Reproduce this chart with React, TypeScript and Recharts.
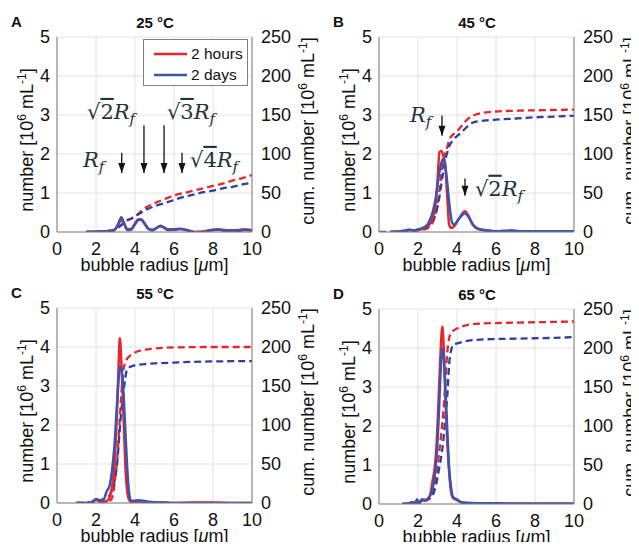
import React from 'react';
import { ComposedChart, Line, XAxis, YAxis, CartesianGrid, ReferenceLine, ReferenceDot, Legend } from 'recharts';

// ---------- data ----------
// Panel A (25 °C)
const rA = [1.5,2.0,2.5,2.8,3.0,3.15,3.3,3.45,3.6,3.8,4.0,4.15,4.3,4.5,4.7,4.9,5.1,5.3,5.45,5.7,6.0,6.2,6.4,6.6,6.9,7.1,7.4,7.7,8.0,8.3,8.6,9.0,9.3,9.6,10.0];
const nA2h = [0,0.01,0.02,0.04,0.08,0.2,0.3,0.22,0.08,0.08,0.22,0.32,0.33,0.22,0.08,0.06,0.1,0.15,0.13,0.07,0.07,0.08,0.08,0.06,0.02,0.0,0.01,0.03,0.06,0.07,0.05,0.04,0.05,0.07,0.05];
const nA2d = [0,0,0.01,0.03,0.08,0.22,0.38,0.2,0.05,0.06,0.2,0.3,0.32,0.2,0.07,0.04,0.1,0.16,0.12,0.05,0.06,0.07,0.08,0.05,0.01,-0.02,-0.01,0.02,0.05,0.06,0.03,0.04,0.03,0.05,0.04];
const cA = [1.5,2.5,3.0,3.2,3.4,3.6,3.8,4.0,4.2,4.4,4.6,5.0,5.5,6.0,6.5,7.0,7.5,8.0,8.5,9.0,9.5,10.0];
const cA2h = [0,1,3,7,11,15,17,20,24,29,32,37,42,47,50,53,56,59,62,66,69,73];
const cA2d = [0,1,3,7,11,15,17,20,23,26,29,33,37,41,45,48,51,53,56,58,61,63];

// Panel B (45 °C)
const rB = [0.6,1.0,1.3,1.5,1.8,2.0,2.3,2.5,2.6,2.7,2.8,2.9,3.0,3.1,3.2,3.3,3.4,3.5,3.6,3.7,3.8,3.9,4.0,4.2,4.4,4.6,4.8,5.0,5.3,5.6,6.0,6.4,6.8,7.2,8,9,10];
const nB2h = [0,0.01,0.03,0.05,0.04,0.05,0.1,0.16,0.2,0.28,0.45,0.7,1.3,2.05,2.08,1.95,1.7,0.9,0.18,0.1,0.12,0.18,0.26,0.42,0.53,0.4,0.2,0.1,0.05,0.03,0.02,0.02,0.03,0.01,0.01,0.01,0.01];
const nB2d = [0,0.01,0.03,0.06,0.04,0.06,0.12,0.2,0.3,0.42,0.6,0.85,1.2,1.55,1.78,1.87,1.7,1.25,0.75,0.35,0.2,0.2,0.27,0.4,0.48,0.38,0.2,0.1,0.06,0.04,0.02,0.03,0.04,0.02,0.02,0.02,0.02];
const cB = [0,0.6,1.5,2.0,2.5,2.8,3.0,3.1,3.2,3.3,3.4,3.5,3.6,3.8,4.0,4.2,4.4,4.6,4.8,5.0,5.5,6,7,8,9,10];
const cB2h = [0,0,1,2,5,15,35,53,75,92,102,109,118,125,129,135,141,146,149,151,153.5,154.5,155.5,156,156.5,157];
const cB2d = [null,0,1,3,7,16,32,45,62,78,92,102,110,118,123,127,132,137,140,141.5,143,144,145.5,147,148,149];

// Panel C (55 °C)
const rC = [1.0,1.5,1.8,2.0,2.2,2.4,2.55,2.7,2.85,2.95,3.05,3.15,3.22,3.3,3.4,3.5,3.6,3.7,3.8,4.0,4.2,4.5,5,5.5,6,7,8,9,10];
const nC2h = [0,0,0.02,0.08,0.04,0.03,0.05,0.15,0.5,1.0,2.0,3.4,4.23,3.6,2.4,1.0,0.3,0.08,0.03,0.02,0.03,0.02,0.01,0.01,0,0.01,0.01,0,0];
const nC2d = [0,0,0.03,0.1,0.07,0.1,0.3,0.45,0.95,1.5,2.3,3.1,3.5,3.45,2.9,1.9,0.9,0.25,0.05,0.06,0.07,0.05,0.02,0.01,0,0,0,0,0];
const cC = [1.0,1.5,2.0,2.3,2.5,2.7,2.8,2.9,3.0,3.1,3.2,3.3,3.4,3.5,3.6,3.8,4.0,4.5,5,6,7,8,10];
const cC2h = [0,0,0.5,1,2,3,5,15,35,60,100,140,170,180,185,190,193,196.5,198,199.5,199.8,200,200];
const cC2d = [0,0.5,2,4,6,10,15,22,35,55,88,118,140,160,172,175,176.5,178,179,180,181,181.5,182];

// Panel D (65 °C)
const rD = [1.2,1.5,1.7,1.85,1.95,2.05,2.2,2.4,2.6,2.75,2.85,2.95,3.05,3.15,3.25,3.32,3.4,3.5,3.6,3.7,3.8,4.0,4.2,4.5,5,6,7,8,9,10];
const nD2h = [0,0,0.02,0.05,0.08,0.05,0.08,0.1,0.2,0.6,0.9,1.5,2.6,3.8,4.55,4.0,2.8,1.6,0.8,0.3,0.15,0.1,0.05,0.02,0.01,0.01,0,0,0,0];
const nD2d = [0,0.01,0.05,-0.05,0.12,0.0,0.12,0.1,0.2,0.4,0.7,1.2,2.1,3.3,3.98,3.8,3.0,1.9,0.9,0.4,0.18,0.12,0.05,0.03,0.02,0.02,0.01,0.01,0.01,0.01];
const cD = [1.2,1.8,2.2,2.5,2.7,2.9,3.0,3.1,3.2,3.3,3.4,3.5,3.6,3.7,3.8,4.0,4.3,4.6,5,6,7,8,9,10];
const cD2h = [0,1,3,5,12,30,48,69,92,118,155,194,213,219,222,225,228,230,231,232,232.5,233,233.5,234];
const cD2d = [0,1,4,6,9,22,34,48,62,82,110,138,180,197,204,206,208,209.5,210.5,211.5,212,212.5,213,214];

// ticks
const xTicks = [0,2,4,6,8,10];
const leftTicks = [0,1,2,3,4,5];
const rightTicks = [0,50,100,150,200,250];
const legendItems = ['2 hours', '2 days'];

// annotations (data coordinates)
const arrowsA = [{ x: 3.32, from: 2.03, to: 1.51 }, { x: 4.46, from: 2.74, to: 1.51 }, { x: 5.49, from: 2.74, to: 1.51 }, { x: 6.41, from: 2.03, to: 1.51 }];
const labelsA = [{ x: 1.33, y: 1.67, root: '' }, { x: 1.54, y: 2.9, root: '2' }, { x: 5.64, y: 2.9, root: '3' }, { x: 6.82, y: 1.67, root: '4' }];
const arrowsB = [{ x: 3.23, from: 2.99, to: 2.47 }, { x: 4.41, from: 1.37, to: 0.93 }];
const labelsB = [{ x: 1.59, y: 2.82, root: '' }, { x: 4.92, y: 0.93, root: '2' }];

// ---------- styles ----------
const FONT = '"Liberation Sans", Arial, Helvetica, sans-serif';
const MATH = '"DejaVu Serif", "Liberation Serif", serif';
const RED = '#e8262b';
const BLUE = '#3a55ad';
const BLUE_D = '#2f3f9e';
const AX = '#808080';
const GRID = '#e2e2e2';
const TXT = '#111';
const MATHC = '#1f3439';

const pts = (xs: number[], ys: (number | null)[]) => xs.map((x, i) => ({ x, y: ys[i] }));

const panels = [
  { letter: 'A', title: '25 °C', left: 0, top: 0, num: [rA, nA2h, nA2d], cum: [cA, cA2h, cA2d], arrows: arrowsA, labels: labelsA, legend: true },
  { letter: 'B', title: '45 °C', left: 322, top: 0, num: [rB, nB2h, nB2d], cum: [cB, cB2h, cB2d], arrows: arrowsB, labels: labelsB, legend: false },
  { letter: 'C', title: '55 °C', left: 0, top: 271, num: [rC, nC2h, nC2d], cum: [cC, cC2h, cC2d], arrows: [], labels: [], legend: false },
  { letter: 'D', title: '65 °C', left: 322, top: 272, num: [rD, nD2h, nD2d], cum: [cD, cD2h, cD2d], arrows: [], labels: [], legend: false },
];

function MathLabel({ x, y, root }: any) {
  return (
    <text x={x} y={y} fontFamily={MATH} fontSize={21} fill={MATHC}>
      {root ? <tspan>√</tspan> : null}
      {root ? <tspan style={{ textDecoration: 'overline' }}>{root}</tspan> : null}
      <tspan fontStyle="italic">R</tspan>
      <tspan fontStyle="italic" fontSize={15} dy={5}>f</tspan>
    </text>
  );
}

function YTitle({ viewBox, side }: any) {
  const vb = viewBox || {};
  const isLeft = side === 'left';
  const cx = isLeft ? (vb.x ?? 0) + 33 : (vb.x ?? 252) + 62;
  const cy = isLeft ? 140 : 131;
  return (
    <text x={cx} y={cy} transform={`rotate(-90, ${cx}, ${cy})`} textAnchor="middle" fontFamily={FONT} fontSize={18} fill={TXT}>
      {isLeft ? 'number [10' : 'cum. number [10'}
      <tspan fontSize={12} dy={-7}>6</tspan>
      <tspan dy={7}> mL</tspan>
      <tspan fontSize={12} dy={-7}>-1</tspan>
      <tspan dy={7}>]</tspan>
    </text>
  );
}

function XTitle({ viewBox }: any) {
  const vb = viewBox || { x: 57, y: 232, width: 195 };
  const cx = vb.x + vb.width / 2;
  const cy = vb.y + 39;
  return (
    <text x={cx} y={cy} textAnchor="middle" fontFamily={FONT} fontSize={18} fill={TXT}>
      bubble radius [<tspan fontStyle="italic">μ</tspan>m]
    </text>
  );
}

function LegendBox() {
  const colors = [RED, BLUE];
  return (
    <div style={{ width: 105, height: 47, border: `1px solid ${AX}`, background: '#fff', boxSizing: 'border-box', position: 'relative', fontFamily: FONT }}>
      {legendItems.map((name, i) => (
        <div key={name} style={{ position: 'absolute', left: 10, top: 5 + i * 21, height: 18, display: 'flex', alignItems: 'center' }}>
          <svg width={34} height={18}><line x1={0} x2={33} y1={9} y2={9} stroke={colors[i]} strokeWidth={2.5} /></svg>
          <span style={{ fontSize: 15.5, color: TXT, marginLeft: 3, lineHeight: '18px' }}>{name}</span>
        </div>
      ))}
    </div>
  );
}

function Panel({ p }: any) {
  const [nx, n2h, n2d] = p.num;
  const [cx, c2h, c2d] = p.cum;
  const tickStyle = { fill: TXT, fontSize: 18, fontFamily: FONT };
  return (
    <div style={{ position: 'absolute', left: p.left, top: p.top, width: 320, height: 275 }}>
      <ComposedChart width={320} height={275} margin={{ top: 37, right: 0, bottom: 0, left: 0 }}>
        <CartesianGrid stroke={GRID} strokeWidth={1} />
        <XAxis dataKey="x" type="number" domain={[0, 10]} ticks={xTicks} allowDataOverflow tickLine={false} tickSize={0} tickMargin={10} height={43} axisLine={{ stroke: AX }} tick={tickStyle} label={(props: any) => <XTitle {...props} />} />
        <XAxis xAxisId="t" orientation="top" type="number" domain={[0, 10]} height={0} tick={false} tickLine={false} axisLine={{ stroke: AX }} />
        <YAxis type="number" domain={[0, 5]} ticks={leftTicks} allowDataOverflow width={57} tickLine={false} tickSize={0} tickMargin={7} axisLine={{ stroke: AX }} tick={tickStyle} label={(props: any) => <YTitle {...props} side="left" />} />
        <YAxis yAxisId="r" orientation="right" type="number" domain={[0, 250]} ticks={rightTicks} allowDataOverflow width={68} tickLine={false} tickSize={0} tickMargin={9} axisLine={{ stroke: AX }} tick={tickStyle} label={(props: any) => <YTitle {...props} side="right" />} />
        <Line data={pts(cx, c2h)} dataKey="y" yAxisId="r" type="monotone" stroke={RED} strokeWidth={2.3} strokeDasharray="7 4" dot={false} isAnimationActive={false} />
        <Line data={pts(cx, c2d)} dataKey="y" yAxisId="r" type="monotone" stroke={BLUE_D} strokeWidth={2.3} strokeDasharray="7 4" dot={false} isAnimationActive={false} />
        <Line data={pts(nx, n2h)} dataKey="y" type="monotone" stroke={RED} strokeWidth={2.5} dot={false} isAnimationActive={false} />
        <Line data={pts(nx, n2d)} dataKey="y" type="monotone" stroke={BLUE} strokeWidth={2.5} dot={false} isAnimationActive={false} />
        {p.arrows.map((a: any, i: number) => (
          <ReferenceLine key={'s' + i} segment={[{ x: a.x, y: a.from }, { x: a.x, y: a.to }]} stroke="#111" strokeWidth={1.3} />
        ))}
        {p.arrows.map((a: any, i: number) => (
          <ReferenceDot key={'h' + i} x={a.x} y={a.to} r={1} shape={(s: any) => (
            <path d={`M${s.cx - 3.5},${s.cy - 10} L${s.cx + 3.5},${s.cy - 10} L${s.cx},${s.cy} Z`} fill="#111" />
          )} />
        ))}
        {p.labels.map((l: any, i: number) => (
          <ReferenceDot key={'l' + i} x={l.x} y={l.y} r={1} shape={(s: any) => <MathLabel x={s.cx} y={s.cy} root={l.root} />} />
        ))}
        {p.legend ? (
          <Legend layout="horizontal" verticalAlign="middle" align="center" content={() => <LegendBox />} wrapperStyle={{ left: 143, top: 39, width: 105, height: 47 }} />
        ) : null}
      </ComposedChart>
      <div style={{ position: 'absolute', left: 11, top: 14, fontFamily: FONT, fontWeight: 'bold', fontSize: 15, lineHeight: '15px', color: TXT }}>{p.letter}</div>
      <div style={{ position: 'absolute', left: 105, width: 100, top: 14.5, textAlign: 'center', fontFamily: FONT, fontWeight: 'bold', fontSize: 15, lineHeight: '15px', color: TXT }}>{p.title}</div>
    </div>
  );
}

export default function App() {
  return (
    <div style={{ position: 'relative', width: 639, height: 550, margin: -8, background: '#fff', overflow: 'hidden' }}>
      {panels.map((p) => <Panel key={p.letter} p={p} />)}
    </div>
  );
}
